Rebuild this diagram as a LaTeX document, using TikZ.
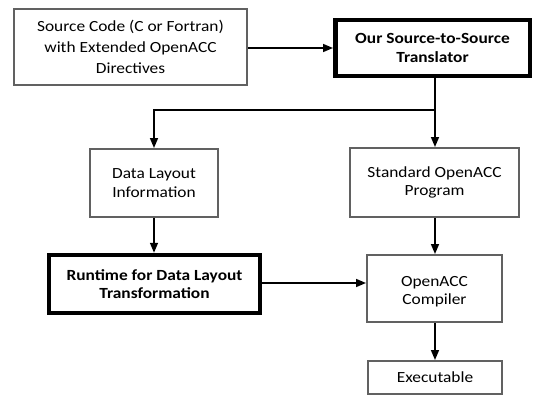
\documentclass[tikz,border=0pt]{standalone}
\usepackage{fontspec}
\setmainfont[FakeStretch=1.12]{Carlito}
\usetikzlibrary{arrows.meta}
\begin{document}
\begin{tikzpicture}[x=1pt,y=-1pt,
  thinbox/.style={draw=black!62,line width=2pt,fill=white,align=center,font=\fontsize{15.5}{18.5}\selectfont,inner sep=0pt},
  thickbox/.style={draw=black,line width=4.5pt,fill=white,align=center,font=\bfseries\fontsize{15.5}{18.5}\selectfont,inner sep=0pt},
  arr/.style={-{Triangle[length=10pt,width=8pt]},line width=1.6pt,black},
  ln/.style={line width=1.6pt,black}]
\useasboundingbox (0,0) rectangle (534,396);
\node[thinbox,minimum width=233pt,minimum height=76pt,font=\fontsize{15.5}{21}\selectfont] (src) at (130.5,47) {Source Code (C or Fortran)\\with Extended OpenACC\\Directives};
\node[thickbox,minimum width=194.5pt,minimum height=55.5pt] (tr) at (432.5,48) {Our Source-to-Source\\Translator};
\node[thinbox,minimum width=128pt,minimum height=68pt] (dl) at (154,183) {Data Layout\\Information};
\node[thinbox,minimum width=169pt,minimum height=69pt] (std) at (434.5,182.5) {Standard OpenACC\\Program};
\node[thickbox,minimum width=211pt,minimum height=58pt] (rt) at (154.5,284) {Runtime for Data Layout\\Transformation};
\node[thinbox,minimum width=135pt,minimum height=67pt] (cmp) at (434.5,288.5) {};
\node[align=center,font=\fontsize{15.5}{18.5}\selectfont,inner sep=0pt] (cmpt) at ([yshift=-3pt]cmp.center) {OpenACC\\Compiler};
\node[thinbox,minimum width=134pt,minimum height=33pt] (exe) at (435,377.5) {Executable};
\coordinate (br) at (435,110);
\coordinate (bl) at (154,110);
\draw[arr] (src.east |- 0,48) -- (tr.west |- 0,48);
\draw[ln] (tr.south -| br) -- (br);
\draw[arr] (br) -- (std.north -| br);
\draw[arr] (br) -- (bl) -- (dl.north -| bl);
\draw[arr] (dl.south -| bl) -- (rt.north -| bl);
\draw[arr] (std.south -| br) -- (cmp.north -| br);
\draw[arr] (rt.east |- 0,283) -- (cmp.west |- 0,283);
\draw[arr] (cmp.south -| br) -- (exe.north -| br);
\end{tikzpicture}
\end{document}
